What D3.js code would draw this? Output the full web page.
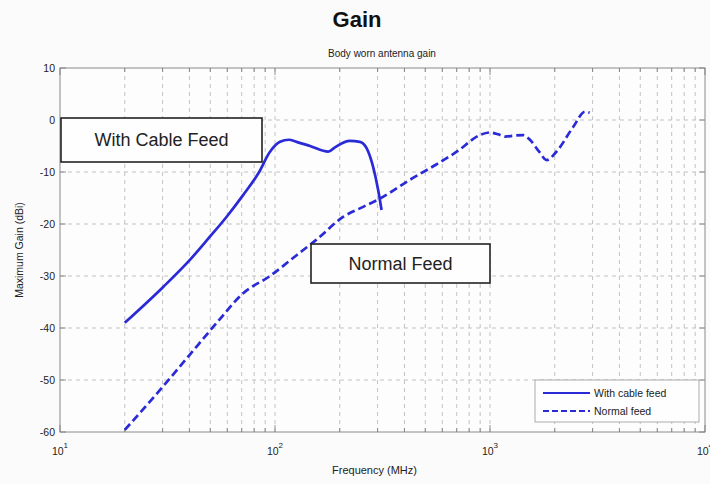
<!DOCTYPE html>
<html>
<head>
<meta charset="utf-8">
<script src="https://cdn.jsdelivr.net/npm/d3@7"></script>
<style>
  html, body { margin: 0; padding: 0; background: #fbfbfb; }
  svg { display: block; }
</style>
</head>
<body>
<div id="chart"></div>
<script>
// ---- data ----
const cableFreq = [20, 30.2, 40.2, 49.9, 59.6, 71.2, 83.7, 94.8, 105.5, 116, 126, 145.5, 177, 190, 223, 248, 267, 286, 302, 313];
const cableGain = [-39, -32.1, -26.9, -22.4, -18.6, -14.4, -10.25, -6.1, -4.2, -3.8, -4.2, -5.0, -6.1, -5.25, -4.0, -4.2, -5.45, -9, -13.5, -17.3];

const normalFreq = [20, 29.2, 40.2, 53.6, 71.2, 94.8, 126, 156, 208, 257, 308, 424, 560, 700, 898, 1000, 1100, 1175, 1300, 1428, 1538, 1700, 1835, 2036, 2441, 2767, 2907];
const normalGain = [-59.6, -51.9, -45.1, -39.0, -33.3, -30.0, -26.0, -23.0, -18.6, -16.7, -15.1, -11.5, -8.6, -6.1, -2.9, -2.4, -2.8, -3.2, -3.0, -2.9, -3.85, -6.2, -7.7, -6.1, -1.3, 1.6, 1.4];

const yTicks = [10, 0, -10, -20, -30, -40, -50, -60];
const xDecades = [10, 100, 1000, 10000];
const seriesNames = ["With cable feed", "Normal feed"];

const width = 710, height = 484;
const pL = 60, pR = 705, pT = 68, pB = 432;
const blue = "#2a2ad6";
const font = "'Liberation Sans', Arial, sans-serif";

const svg = d3.select("#chart").append("svg")
  .attr("width", width).attr("height", height);

const x = d3.scaleLog().domain([10, 10000]).range([pL, pR]);
const y = d3.scaleLinear().domain([-60, 10]).range([pB, pT]);

// minor x positions (2..9 in each decade)
const xMinor = [];
xDecades.slice(0, 3).forEach(d => { for (let k = 2; k <= 9; k++) xMinor.push(d * k); });

// plot background
svg.append("rect").attr("x", pL).attr("y", pT)
  .attr("width", pR - pL).attr("height", pB - pT).attr("fill", "#fdfdfd");

// grid
const grid = svg.append("g").attr("stroke", "#b4b4b4").attr("stroke-width", 0.8)
  .attr("stroke-dasharray", "4,4");
grid.selectAll("line.gx").data(xMinor.concat([100, 1000])).join("line")
  .attr("class", "gx")
  .attr("x1", d => x(d)).attr("x2", d => x(d)).attr("y1", pT).attr("y2", pB);
grid.selectAll("line.gy").data(yTicks.slice(1, -1)).join("line")
  .attr("class", "gy")
  .attr("y1", d => y(d)).attr("y2", d => y(d)).attr("x1", pL).attr("x2", pR);

// axes frame
svg.append("rect").attr("x", pL).attr("y", pT)
  .attr("width", pR - pL).attr("height", pB - pT)
  .attr("fill", "none").attr("stroke", "#8a8a8a").attr("stroke-width", 1);

// inward ticks
const ticks = svg.append("g").attr("stroke", "#777").attr("stroke-width", 0.8);
xMinor.forEach(d => {
  ticks.append("line").attr("x1", x(d)).attr("x2", x(d)).attr("y1", pB).attr("y2", pB - 4);
  ticks.append("line").attr("x1", x(d)).attr("x2", x(d)).attr("y1", pT).attr("y2", pT + 4);
});
xDecades.forEach(d => {
  ticks.append("line").attr("x1", x(d)).attr("x2", x(d)).attr("y1", pB).attr("y2", pB - 7);
  ticks.append("line").attr("x1", x(d)).attr("x2", x(d)).attr("y1", pT).attr("y2", pT + 7);
});
yTicks.forEach(d => {
  ticks.append("line").attr("x1", pL).attr("x2", pL + 6).attr("y1", y(d)).attr("y2", y(d));
  ticks.append("line").attr("x1", pR).attr("x2", pR - 6).attr("y1", y(d)).attr("y2", y(d));
});

// y tick labels
svg.append("g").selectAll("text").data(yTicks).join("text")
  .attr("x", pL - 5).attr("y", d => y(d) + 4)
  .attr("text-anchor", "end").attr("font-family", font).attr("font-size", 10.5)
  .attr("fill", "#222").text(d => d);

// x tick labels 10^n
const xl = svg.append("g").attr("font-family", font).attr("fill", "#222");
xDecades.forEach(d => {
  const t = xl.append("text").attr("x", x(d)).attr("y", pB + 23)
    .attr("text-anchor", "middle").attr("font-size", 10.5);
  t.append("tspan").text("10");
  t.append("tspan").attr("dy", -7).attr("font-size", 8).text(Math.round(Math.log10(d)));
});

// axis titles
svg.append("text").attr("x", (pL + pR) / 2 - 8).attr("y", 474)
  .attr("text-anchor", "middle").attr("font-family", font).attr("font-size", 11)
  .attr("fill", "#222").text("Frequency (MHz)");
svg.append("text").attr("transform", `translate(23,${(pT + pB) / 2}) rotate(-90)`)
  .attr("text-anchor", "middle").attr("font-family", font).attr("font-size", 10.5)
  .attr("fill", "#222").text("Maximum Gain (dBi)");

// titles
svg.append("text").attr("x", 357).attr("y", 27).attr("text-anchor", "middle")
  .attr("font-family", font).attr("font-weight", "bold").attr("font-size", 22)
  .attr("fill", "#111").text("Gain");
svg.append("text").attr("x", 382).attr("y", 57).attr("text-anchor", "middle")
  .attr("font-family", font).attr("font-size", 10)
  .attr("fill", "#222").text("Body worn antenna gain");

// curves
const line = d3.line().x(d => x(d[0])).y(d => y(d[1])).curve(d3.curveMonotoneX);
svg.append("path").datum(d3.zip(cableFreq, cableGain))
  .attr("d", line).attr("fill", "none").attr("stroke", blue).attr("stroke-width", 2.7);
svg.append("path").datum(d3.zip(normalFreq, normalGain))
  .attr("d", line).attr("fill", "none").attr("stroke", blue).attr("stroke-width", 2.7)
  .attr("stroke-dasharray", "8,4");

// annotation boxes
function note(x0, y0, w, h, label) {
  svg.append("rect").attr("x", x0).attr("y", y0).attr("width", w).attr("height", h)
    .attr("fill", "#fefefe").attr("stroke", "#222").attr("stroke-width", 1.6);
  svg.append("text").attr("x", x0 + w / 2).attr("y", y0 + h / 2 + 6)
    .attr("text-anchor", "middle").attr("font-family", font).attr("font-size", 18)
    .attr("fill", "#222").text(label);
}
note(61, 118, 201, 44, "With Cable Feed");
note(311, 244, 179, 39, "Normal Feed");

// legend
const lg = svg.append("g").attr("transform", "translate(535,380)");
lg.append("rect").attr("width", 164).attr("height", 42)
  .attr("fill", "#fefefe").attr("stroke", "#999").attr("stroke-width", 0.8);
seriesNames.forEach((name, i) => {
  lg.append("line").attr("x1", 8).attr("x2", 55).attr("y1", 13 + i * 18).attr("y2", 13 + i * 18)
    .attr("stroke", blue).attr("stroke-width", 2.2)
    .attr("stroke-dasharray", i ? "6,3" : null);
  lg.append("text").attr("x", 59).attr("y", 17 + i * 18).attr("font-family", font)
    .attr("font-size", 10.5).attr("fill", "#222").text(name);
});
</script>
</body>
</html>
